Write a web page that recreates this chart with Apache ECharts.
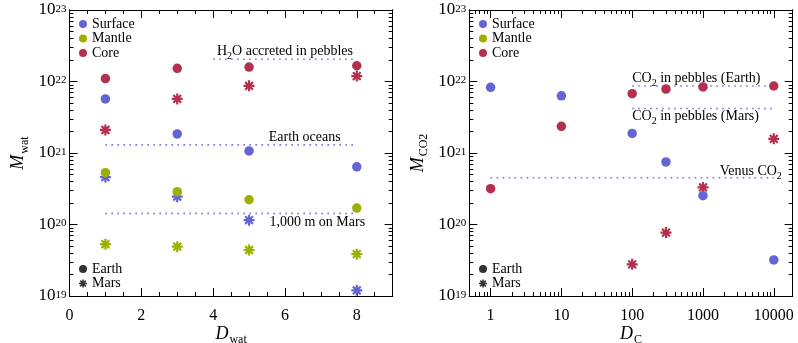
<!DOCTYPE html>
<html>
<head>
<meta charset="utf-8">
<script src="https://cdn.jsdelivr.net/npm/echarts@6/dist/echarts.min.js"></script>
<style>
  html, body { margin: 0; padding: 0; background: #fff; }
  #chart { width: 798px; height: 343px; }
</style>
</head>
<body>
<div id="chart"></div>
<script>
// left panel: water reservoirs vs D_wat
const dWat = [1, 3, 5, 8]
const watSurfaceEarth = [5.7e21, 1.85e21, 1.07e21, 6.4e20]
const watMantleEarth = [5.3e20, 2.88e20, 2.22e20, 1.7e20]
const watCoreEarth = [1.1e22, 1.53e22, 1.59e22, 1.66e22]
const watSurfaceMars = [4.6e20, 2.45e20, 1.15e20, 1.2e19]
const watMantleMars = [5.3e19, 4.9e19, 4.4e19, 3.85e19]
const watCoreMars = [2.1e21, 5.7e21, 8.7e21, 1.19e22]
const watRefX = [[4, 8], [1, 8], [1, 8]]
const watRefY = [2.05e22, 1.3e21, 1.43e20]

// right panel: CO2 reservoirs vs D_C
const dC = [1, 10, 100, 300, 1000, 10000]
const co2SurfaceEarth = [8.3e21, 6.3e21, 1.88e21, 7.5e20, 2.53e20, 3.2e19]
const co2CoreEarth = [3.17e20, 2.36e21, 6.75e21, 7.85e21, 8.4e21, 8.65e21]
const dCMars = [100, 300, 1000, 10000]
const co2CoreMars = [2.77e19, 7.7e19, 3.3e20, 1.58e21]
const co2RefX = [[100, 10000], [100, 10000], [1, 10000]]
const co2RefY = [8.65e21, 4.2e21, 4.5e20]

// tick positions
const yMajor = [1e19, 1e20, 1e21, 1e22, 1e23]
const xWatMajor = [0, 2, 4, 6, 8]
const xCMajor = [1, 10, 100, 1000, 10000]

const BLUE = '#6464d4'
const OLIVE = '#9db000'
const RED = '#b3304f'
const DOT = '#7676e4'
const FONT = '"Liberation Serif", "DejaVu Serif", serif'
const STAR = 'path://M0 8H20V12H0Z M8 0H12V20H8Z M4.34 1.51L18.49 15.66L15.66 18.49L1.51 4.34Z M15.66 1.51L18.49 4.34L4.34 18.49L1.51 15.66Z'

function logMinor(lo, hi) {
  const out = []
  for (let e = Math.floor(Math.log10(lo)); e <= Math.ceil(Math.log10(hi)); e++) {
    for (let m = 2; m <= 9; m++) {
      const v = m * Math.pow(10, e)
      if (v > lo * 1.0001 && v < hi * 0.9999) out.push(v)
    }
  }
  return out
}
const yMinor = logMinor(1e19, 1e23)
const xCMinor = logMinor(0.5, 1.85e4)
const xWatMinor = [0.5, 1, 1.5, 2.5, 3, 3.5, 4.5, 5, 5.5, 6.5, 7, 7.5, 8.5]

const supLabel = {
  fontFamily: FONT, color: '#000', margin: 3,
  rich: {
    b: { fontFamily: FONT, fontSize: 17, lineHeight: 17, padding: [4, 0, 0, 0], verticalAlign: 'bottom', color: '#000' },
    s: { fontFamily: FONT, fontSize: 11, lineHeight: 11, padding: [2, 0, 0, 0], verticalAlign: 'top', color: '#000' }
  },
  formatter: v => '{b|10}{s|' + Math.round(Math.log10(v)) + '}'
}
const plainLabel = { fontFamily: FONT, fontSize: 16, color: '#000', margin: 12, formatter: v => String(v) }

const nameRich = {
  i: { fontFamily: FONT, fontSize: 18, fontStyle: 'italic', color: '#000', lineHeight: 20, verticalAlign: 'top' },
  s: { fontFamily: FONT, fontSize: 12, color: '#000', lineHeight: 12, verticalAlign: 'bottom', padding: [0, 0, -1, 1] }
}

function axes(dim, gi, type, min, max, major, minor, label, name, gap) {
  const pos = dim === 'x' ? ['bottom', 'top'] : ['left', 'right']
  const out = []
  pos.forEach((p, k) => {
    [major, minor].forEach((vals, m) => {
      const main = k === 0 && m === 0
      out.push({
        type, gridIndex: gi, position: p, min, max,
        axisLine: { show: true, onZero: false, lineStyle: { color: '#000', width: 1 } },
        splitLine: { show: false },
        axisTick: { show: true, inside: true, length: m === 0 ? 8 : 4, customValues: vals, lineStyle: { color: '#000', width: 1 } },
        axisLabel: main ? Object.assign({ show: true, customValues: major, showMinLabel: true, showMaxLabel: true, hideOverlap: false }, label) : { show: false },
        name: main ? name : '',
        nameLocation: 'middle',
        nameGap: gap,
        nameMoveOverlap: false,
        nameRotate: dim === 'y' ? 90 : 0,
        nameTextStyle: { rich: nameRich },
        silent: true
      })
    })
  })
  return out
}

function pts(xs, ys) { return xs.map((x, i) => [x, ys[i]]) }

function dots(gi, name, symbol, color, xs, ys) {
  return {
    name, type: 'scatter', xAxisIndex: gi * 4, yAxisIndex: gi * 4,
    symbol, symbolSize: symbol === 'circle' ? 9.5 : 11,
    itemStyle: { color, opacity: 1 },
    data: pts(xs, ys)
  }
}

function refLine(gi, xs, y) {
  return {
    type: 'line', xAxisIndex: gi * 4, yAxisIndex: gi * 4,
    data: xs.map(x => [x, y]), symbol: 'none', silent: true, z: 1,
    lineStyle: { color: DOT, width: 1.6, type: [1.6, 4.4] }
  }
}

const series = [
  // legend-only entries for the planet markers
  { name: 'Earth', type: 'scatter', symbol: 'circle', itemStyle: { color: '#000' }, data: [] },
  { name: 'Mars', type: 'scatter', symbol: STAR, itemStyle: { color: '#000' }, data: [] },
  refLine(0, watRefX[0], watRefY[0]),
  refLine(0, watRefX[1], watRefY[1]),
  refLine(0, watRefX[2], watRefY[2]),
  dots(0, 'Surface', STAR, BLUE, dWat, watSurfaceMars),
  dots(0, 'Mantle', STAR, OLIVE, dWat, watMantleMars),
  dots(0, 'Core', STAR, RED, dWat, watCoreMars),
  dots(0, 'Surface', 'circle', BLUE, dWat, watSurfaceEarth),
  dots(0, 'Mantle', 'circle', OLIVE, dWat, watMantleEarth),
  dots(0, 'Core', 'circle', RED, dWat, watCoreEarth),
  refLine(1, co2RefX[0], co2RefY[0]),
  refLine(1, co2RefX[1], co2RefY[1]),
  refLine(1, co2RefX[2], co2RefY[2]),
  dots(1, 'Core', STAR, RED, dCMars, co2CoreMars),
  dots(1, 'Surface', 'circle', BLUE, dC, co2SurfaceEarth),
  dots(1, 'Core', 'circle', RED, dC, co2CoreEarth)
]

const legendText = { fontFamily: FONT, fontSize: 14, color: '#000' }
function legend(left, top, items) {
  return {
    left, top, orient: 'vertical', selectedMode: false,
    itemWidth: 8, itemHeight: 8, itemGap: 0.5, padding: 0,
    textStyle: legendText, data: items
  }
}
const colourItems = ['Surface', 'Mantle', 'Core'].map(n => ({ name: n, icon: 'circle' }))
const planetItems = [{ name: 'Earth', icon: 'circle' }, { name: 'Mars', icon: STAR }]

const chart = echarts.init(document.getElementById('chart'), null, { renderer: 'canvas' })
chart.setOption({
  animation: false,
  backgroundColor: '#fff',
  grid: [
    { left: 69.5, top: 10, width: 323.2, height: 286, containLabel: false, outerBoundsMode: 'none' },
    { left: 469.3, top: 10, width: 323.4, height: 286, containLabel: false, outerBoundsMode: 'none' }
  ],
  xAxis: [
    ...axes('x', 0, 'value', 0, 9, xWatMajor, xWatMinor, plainLabel, '{i|D}{s|wat}', 29),
    ...axes('x', 1, 'log', 0.5, 1.85e4, xCMajor, xCMinor, plainLabel, '{i|D}{s|C}', 29)
  ],
  yAxis: [
    ...axes('y', 0, 'log', 0.99999e19, 1.00001e23, yMajor, yMinor, supLabel, '{i|M}{s|wat}', 40),
    ...axes('y', 1, 'log', 0.99999e19, 1.00001e23, yMajor, yMinor, supLabel, '{i|M}{s|CO2}', 40)
  ],
  legend: [
    legend(79, 17, colourItems),
    legend(79, 262, planetItems),
    legend(479, 17, colourItems),
    legend(479, 262, planetItems)
  ],
  series
})

// annotations for the dotted reference levels
const notes = [
  { gi: 0, x: 6, y: watRefY[0], text: 'H{s|2}O accreted in pebbles', align: 'center', va: 'bottom', dy: -1 },
  { gi: 0, x: 6.55, y: watRefY[1], text: 'Earth oceans', align: 'center', va: 'bottom', dy: -1 },
  { gi: 0, x: 6.9, y: watRefY[2], text: '1,000 m on Mars', align: 'center', va: 'top', dy: 2 },
  { gi: 1, x: 100, y: co2RefY[0], text: 'CO{s|2} in pebbles (Earth)', align: 'left', va: 'bottom', dy: -1 },
  { gi: 1, x: 100, y: co2RefY[1], text: 'CO{s|2} in pebbles (Mars)', align: 'left', va: 'top', dy: 1 },
  { gi: 1, x: 13000, y: co2RefY[2], text: 'Venus CO{s|2}', align: 'right', va: 'bottom', dy: 1 }
]
chart.setOption({
  graphic: notes.map(n => {
    const p = chart.convertToPixel({ xAxisIndex: n.gi * 4, yAxisIndex: n.gi * 4 }, [n.x, n.y])
    return {
      type: 'text', x: p[0], y: p[1] + n.dy, silent: true, z: 10,
      style: {
        text: n.text, fill: '#000', fontFamily: FONT, fontSize: 14,
        align: n.align, verticalAlign: n.va,
        rich: {
          s: { fontFamily: FONT, fontSize: 10, fill: '#000', verticalAlign: 'bottom', padding: [0, 0, -3, 0] }
        }
      }
    }
  })
})
</script>
</body>
</html>
